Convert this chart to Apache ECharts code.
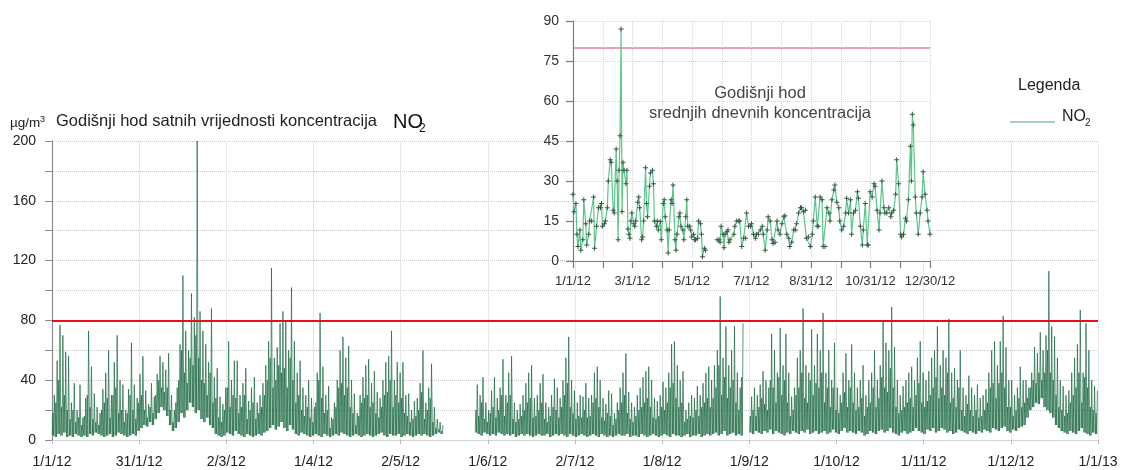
<!DOCTYPE html>
<html>
<head>
<meta charset="utf-8">
<script src="https://cdn.jsdelivr.net/npm/echarts@6/dist/echarts.min.js"></script>
<style>
  html, body { margin: 0; padding: 0; background: #fff; }
  #chart { width: 1121px; height: 470px; }
</style>
</head>
<body>
<div id="chart"></div>
<script>
// Limit value (µg/m³) drawn as a horizontal line in both panels
const LIMIT = 80;

// Tick labels of the hourly panel (day of year 0..366, every 30.5 days)
const hourlyTickLabels = ['1/1/12', '31/1/12', '2/3/12', '1/4/12', '2/5/12', '1/6/12', '2/7/12',
  '1/8/12', '1/9/12', '1/10/12', '1/11/12', '1/12/12', '1/1/13'];

// Tick labels of the daily-mean panel (every other tick)
const dailyTickLabels = ['1/1/12', '3/1/12', '5/1/12', '7/1/12', '8/31/12', '10/31/12', '12/30/12'];

// Hourly NO2: evening maximum per day of 2012 (null = no measurements)
const dailyPeak = [
  30, 53, 77, 70, 59, 56, 25, 38, 20, 37,
  15, 28, 73, 49, 31, 22, 18, 34, 45, 60,
  30, 52, 70, 40, 37, 20, 34, 65, 37, 28,
  44, 56, 33, 24, 38, 29, 44, 56, 52, 47,
  58, 30, 20, 35, 64, 110, 73, 60, 98, 82,
  200, 86, 73, 64, 52, 88, 42, 48, 29, 24,
  35, 66, 40, 53, 53, 30, 38, 48, 26, 35,
  42, 25, 30, 38, 50, 66, 115, 55, 62, 78,
  86, 80, 60, 102, 66, 45, 53, 35, 30, 40,
  28, 22, 45, 85, 49, 30, 36, 15, 25, 40,
  60, 69, 55, 63, 40, 31, 18, 30, 42, 50,
  54, 38, 46, 32, 28, 40, 52, 56, 73, 40,
  52, 45, 52, 30, 31, 20, 26, 28, 38, 60,
  25, 35, 51, 22, 14, 12, 10,
  null, null, null, null, null, null, null, null, null, null, null,
  37, 30,
  42, 25, 20, 33, 42, 28, 35, 54, 30, 45,
  56, 25, 20, 24, 30, 38, 45, 50, 28, 30,
  38, 44, 25, 22, 30, 41, 35, 28, 40, 55,
  69, 40, 33, 25, 30, 29, 38, 28, 30, 45,
  49, 40, 28, 24, 33, 31, 18, 25, 35, 45,
  58, 32, 25, 22, 30, 35, 42, 46, 49, 40,
  28, 26, 30, 39, 35, 45, 64, 66, 50, 40,
  46, 20, 25, 30, 28, 36, 30, 38, 45, 49,
  40, 50, 60, 96, 55, 76, 50, 60, 76, 45,
  35, 78, null, null, 29, 35, 30, 37, 46, 40,
  35, 71, 60, 45, 75, 50, 71, 45, 29, 35,
  55, 60, 88, 50, 45, 74, 50, 71, 60, 85,
  45, 60, 40, 65, 35, 30, 45, 58, 40, 64,
  45, 35, 40, 50, 30, 40, 45, 60, 40, 50,
  79, 65, 60, 89, 62, 40, 30, 36, 40, 45,
  49, 40, 55, 66, 45, 40, 46, 55, 60, 76,
  50, 60, 55, 81, 45, 48, 40, 60, 35, 30,
  43, 35, 30, 37, 28, 30, 34, 45, 60, 66,
  50, 66, 83, 62, 40, 40, 30, 35, 49, 40,
  40, 35, 45, 62, 58, 72, 60, 70, 113, 76,
  69, 55, 40, 36, 30, 33, 45, 55, 64, 87,
  45, 78, 60, 40, 36, 33
];

// Hourly NO2: morning maximum per day of 2012
const dailyMorning = [
  18, 25, 40, 22, 30, 20, 14, 20, 12, 15,
  10, 16, 30, 22, 14, 12, 10, 20, 25, 28,
  15, 30, 35, 18, 20, 12, 18, 30, 20, 14,
  25, 30, 20, 15, 22, 18, 30, 40, 35, 32,
  35, 20, 12, 25, 40, 60, 45, 38, 55, 50,
  70, 55, 40, 38, 30, 45, 25, 28, 15, 12,
  20, 35, 22, 30, 28, 18, 22, 30, 14, 20,
  25, 14, 18, 22, 30, 40, 55, 35, 40, 50,
  45, 48, 35, 55, 40, 25, 30, 20, 16, 22,
  15, 12, 25, 40, 28, 18, 20, 8, 14, 22,
  35, 38, 30, 35, 22, 18, 10, 16, 25, 28,
  30, 22, 25, 18, 15, 22, 30, 32, 40, 22,
  30, 25, 28, 18, 16, 12, 14, 16, 20, 32,
  14, 20, 28, 12, 8, 7, 6,
  null, null, null, null, null, null, null, null, null, null, null,
  20, 16,
  25, 14, 12, 18, 22, 15, 20, 30, 16, 25,
  30, 14, 12, 14, 16, 20, 25, 28, 15, 16,
  20, 25, 14, 12, 16, 22, 20, 15, 22, 30,
  38, 22, 18, 14, 16, 15, 20, 15, 16, 25,
  28, 22, 15, 13, 18, 16, 10, 14, 20, 25,
  30, 18, 14, 12, 16, 20, 22, 25, 28, 22,
  15, 14, 16, 22, 20, 25, 35, 38, 28, 22,
  25, 12, 14, 16, 15, 20, 16, 22, 25, 28,
  22, 28, 35, 50, 30, 42, 28, 35, 40, 25,
  20, 42, null, null, 16, 20, 16, 22, 28, 24,
  20, 40, 35, 25, 42, 30, 40, 25, 16, 20,
  30, 35, 45, 28, 25, 40, 30, 38, 35, 45,
  25, 35, 22, 35, 20, 18, 25, 32, 22, 35,
  25, 20, 22, 28, 16, 22, 25, 35, 22, 28,
  42, 35, 32, 48, 35, 22, 18, 20, 22, 25,
  28, 22, 30, 38, 25, 22, 26, 30, 35, 42,
  28, 35, 30, 45, 25, 28, 22, 35, 20, 16,
  24, 20, 16, 20, 15, 16, 20, 25, 35, 38,
  28, 38, 45, 35, 22, 22, 16, 20, 28, 22,
  25, 28, 35, 40, 38, 45, 40, 45, 60, 45,
  40, 30, 22, 20, 16, 18, 25, 30, 35, 45,
  25, 42, 35, 22, 20, 18
];

// Hourly NO2: daily minimum per day of 2012 (null = no measurements)
const dailyLow = [
  3, 2, 4, 3, 5, 2, 3, 2, 4, 3,
  2, 3, 2, 4, 3, 5, 4, 3, 2, 3,
  4, 2, 3, 5, 4, 3, 2, 3, 4, 3,
  6, 8, 10, 9, 12, 10, 14, 18, 22, 20,
  16, 10, 6, 8, 12, 18, 15, 20, 25, 22,
  18, 20, 14, 12, 15, 10, 8, 4, 3, 2,
  3, 5, 4, 3, 6, 4, 3, 2, 4, 3,
  2, 3, 4, 3, 5, 6, 8, 10, 7, 9,
  12, 8, 6, 10, 7, 4, 3, 5, 4, 3,
  2, 3, 4, 3, 2, 4, 3, 2, 3, 4,
  3, 5, 4, 3, 2, 3, 4, 3, 2, 3,
  4, 3, 2, 3, 4, 5, 3, 2, 4, 3,
  3, 4, 2, 3, 4, 3, 2, 3, 4, 3,
  4, 3, 2, 3, 4, 5, 4,
  null, null, null, null, null, null, null, null, null, null, null,
  5, 4,
  3, 5, 4, 3, 4, 3, 5, 4, 3, 4,
  3, 4, 2, 3, 4, 3, 4, 3, 2, 3,
  4, 3, 3, 4, 2, 3, 4, 3, 4, 3,
  2, 4, 3, 2, 3, 4, 3, 2, 3, 4,
  3, 2, 4, 3, 2, 3, 2, 3, 4, 3,
  3, 4, 2, 3, 3, 2, 4, 3, 2, 3,
  4, 3, 2, 3, 4, 3, 2, 4, 3, 3,
  2, 3, 4, 2, 3, 3, 4, 2, 3, 4,
  3, 4, 5, 3, 4, 6, 3, 4, 5, 3,
  4, 3, null, null, 5, 4, 6, 5, 4, 6,
  5, 7, 4, 6, 5, 4, 3, 5, 4, 6,
  5, 4, 6, 5, 7, 4, 5, 6, 4, 5,
  6, 4, 5, 7, 5, 4, 6, 8, 5, 6,
  5, 4, 6, 5, 3, 4, 6, 5, 4, 6,
  7, 5, 6, 8, 5, 4, 3, 5, 6, 4,
  5, 6, 8, 6, 5, 4, 7, 6, 8, 5,
  6, 8, 7, 5, 6, 4, 5, 7, 6, 5,
  4, 6, 5, 4, 6, 5, 7, 6, 5, 8,
  7, 6, 8, 9, 6, 5, 7, 6, 8, 9,
  10, 15, 20, 22, 25, 24, 28, 22, 20, 18,
  15, 10, 8, 6, 5, 4, 6, 5, 4, 6,
  8, 5, 4, 3, 5, 4
];

// Daily mean NO2: day of year and mean value (null breaks the line)
const meanDay = [
  0, 1, 3, 4, 5, 7, 8, 10, 11, 13, 14, 16, 17, 19, 21, 22, 24, 26, 28, 29,
  30, 32, 33, 35, 36, 38, 39, 41, 42, 44, 45, 46, 47, 48, 49, 50, 51, 52, 54, 55,
  56, 57, 58, 59, 60, 62, 63, 64, 66, 67, 68, 70, 71, 72, 74, 75, 76, 78, 79, 81,
  82, 83, 85, 86, 87, 89, 90, 92, 93, 94, 96, 97, 98, 100, 101, 102, 104, 105, 106, 108,
  109, 110, 112, 113, 115, 116, 117, 119, 120, 121, 123, 124, 125, 127, 128, 130, 131, 132, 134, 135,
  140,
  147, 149, 150, 151, 153, 154, 155, 157, 158, 159, 160, 164, 165, 167, 169, 170, 172, 174, 176, 177,
  179, 181, 182, 184, 186, 187, 189, 191, 193, 194, 196, 198, 199, 201, 203, 204, 206, 208, 209, 211,
  213, 215, 216, 218, 220, 221, 223, 225, 227, 228, 230, 232, 233, 235, 237, 238, 240, 242, 244, 245,
  247, 249, 250, 252, 254, 255, 257, 259, 261, 262, 264, 266, 267, 269, 271, 272, 274, 276, 278, 279,
  281, 283, 284, 286, 288, 290, 291, 293, 295, 296, 298, 300, 301, 303, 305, 307, 308, 310, 312, 313,
  315, 317, 318, 320, 322, 324, 325, 327, 329, 330, 332, 334, 335, 337, 339, 340, 342, 344, 345, 346,
  347, 349, 350, 352, 354, 356, 357, 359, 361, 362, 364
];
const meanValue = [
  25, 18.5, 21.6, 10, 5.4, 11.6, 4, 8, 23, 14, 6, 10, 15, 15, 24, 4.8, 13, 20, 20, 21.6,
  13, 14, 15, 20, 30, 38, 37, 19, 18, 42, 30, 8, 34, 47, 87, 18.5, 37, 34, 29, 34,
  12, 10, 8.5, 15, 18, 14, 13, 15, 22, 24, 20, 8, 9, 15, 35, 21.6, 16.6, 28, 33, 34,
  29, 15, 13, 15, 11.6, 14.8, 8, 21.6, 23, 16.6, 11.6, 3, 11.6, 23, 21.6, 28.5, 8, 4, 10, 16.6,
  18, 13, 11.6, 8, 16.6, 23, 13, 13, 11.6, 9, 10, 8, 8, 8.5, 15, 14, 10, 1.6, 4.8, 4,
  null,
  8, 8, 7, 13, 10, 5, 10, 11, 11.6, 7, 8, 10, 13, 15, 15, 15, 5.4, 8.5, 8.5, 18,
  13, 13, 14, 10, 8.5, 10, 10, 11.6, 13, 10, 4, 11.6, 16.6, 15, 8, 6.6, 7, 15, 11.6, 10,
  14, 16.6, 17, 10, 8.5, 5.4, 7, 11.6, 11.6, 14, 18, 20, 20, 18.5, 19, 8.5, 9, 5.4, 10, 15,
  24, 13, 13, 24, 23, 5.4, 5.4, 20, 18, 15, 23, 26.6, 28.5, 22, 20, 15, 11.6, 13, 18, 23.5,
  18, 23, 10, 18, 19, 26, 23.5, 13, 6, 11.6, 21.6, 6, 6, 26, 24, 29, 28, 19, 11.6, 18,
  30, 20, 18, 18, 20, 16.6, 18, 19, 25, 38, 29, 10, 9, 10, 16, 15, 23, 43, 30, 55,
  51, 24, 18, 10, 18, 24, 33.5, 25, 19, 15, 10
];

// Hourly series: night low, morning peak, midday low, evening peak for each day
const hourlyData = [];
dailyPeak.forEach((peak, day) => {
  if (peak === null) {
    hourlyData.push([day + 0.5, null]);
  } else {
    hourlyData.push([day + 0.1, dailyLow[day]]);
    hourlyData.push([day + 0.33, dailyMorning[day]]);
    hourlyData.push([day + 0.55, dailyLow[day]]);
    hourlyData.push([day + 0.8, peak]);
  }
});
const meanData = meanDay.map((d, i) => [d, meanValue[i]]);

const FONT = '"Liberation Sans", Arial, sans-serif';
const HOURLY_STEP = 30.5;
const DAILY_STEP = 364 / 12;
const PLUS = 'path://M2,0H3V2H5V3H3V5H2V3H0V2H2Z';

const chart = echarts.init(document.getElementById('chart'), null, { renderer: 'canvas' });
chart.setOption({
  animation: false,
  backgroundColor: '#ffffff',
  textStyle: { fontFamily: FONT },
  grid: [
    { left: 52, right: 23, top: 141, bottom: 30 },
    { left: 573, right: 191, top: 21, bottom: 209, z: 5, show: true,
      backgroundColor: '#ffffff', borderWidth: 0 }
  ],
  xAxis: [
    {
      gridIndex: 0, type: 'value', min: 0, max: 366, interval: HOURLY_STEP, offset: 5,
      axisLine: { lineStyle: { color: '#cdd6d1', width: 1 } },
      axisTick: { show: true, length: 4, lineStyle: { color: '#bbbbbb' } },
      axisLabel: { color: '#222', fontSize: 14, margin: 10, fontFamily: FONT,
        formatter: v => hourlyTickLabels[Math.round(v / HOURLY_STEP)] || '' },
      splitLine: { show: true, lineStyle: { color: '#e2ebe6', width: 1, type: 'solid' } }
    },
    {
      gridIndex: 1, type: 'value', min: 0, max: 364, interval: DAILY_STEP, z: 10,
      axisLine: { lineStyle: { color: '#7a7a7a', width: 1.2 } },
      axisTick: { show: true, length: 7, lineStyle: { color: '#7a7a7a', width: 1.2 } },
      axisLabel: { color: '#333', fontSize: 13, margin: 14, fontFamily: FONT,
        formatter: v => {
          const k = Math.round(v / DAILY_STEP);
          return k % 2 === 0 ? (dailyTickLabels[k / 2] || '') : '';
        } },
      splitLine: { show: true, lineStyle: { color: '#d4d4d4', width: 1, type: 'dotted' } }
    }
  ],
  yAxis: [
    {
      gridIndex: 0, type: 'value', min: 0, max: 200, interval: 20,
      axisLine: { show: true, lineStyle: { color: '#8a8a8a', width: 1.2 } },
      axisTick: { show: true, length: 7, lineStyle: { color: '#8a8a8a' } },
      axisLabel: { color: '#222', fontSize: 14, margin: 16, fontFamily: FONT,
        formatter: v => (v % 40 === 0 ? String(v) : '') },
      splitLine: { show: true, lineStyle: { color: '#c9c9c9', width: 1, type: 'dotted' } }
    },
    {
      gridIndex: 1, type: 'value', min: 0, max: 90, interval: 15, z: 10,
      axisLine: { show: true, lineStyle: { color: '#7a7a7a', width: 1.2 } },
      axisTick: { show: true, length: 7, lineStyle: { color: '#7a7a7a', width: 1.2 } },
      axisLabel: { color: '#333', fontSize: 14, margin: 14, fontFamily: FONT },
      splitLine: { show: true, lineStyle: { color: '#d4d4d4', width: 1, type: 'dotted' } }
    }
  ],
  series: [
    {
      name: 'NO2', type: 'line', xAxisIndex: 0, yAxisIndex: 0,
      data: hourlyData, showSymbol: false, symbol: 'none', connectNulls: false,
      lineStyle: { color: '#1c6a42', width: 0.75, opacity: 0.95 },
      itemStyle: { color: '#1c6a42' },
      markLine: {
        silent: true, symbol: ['none', 'none'], label: { show: false },
        lineStyle: { color: '#e2101a', width: 2, type: 'solid', opacity: 1 },
        data: [{ yAxis: LIMIT }]
      }
    },
    {
      name: 'NO2 daily', type: 'line', xAxisIndex: 1, yAxisIndex: 1, z: 11,
      data: meanData, connectNulls: false,
      symbol: PLUS, symbolSize: 5, showSymbol: true,
      itemStyle: { color: '#3a5746' },
      lineStyle: { color: '#5cc58a', width: 1.2 },
      markLine: {
        silent: true, symbol: ['none', 'none'], label: { show: false },
        lineStyle: { color: '#ec7ba2', width: 1.6, type: 'solid' },
        data: [{ yAxis: LIMIT }]
      }
    }
  ],
  graphic: [
    { type: 'text', left: 10, top: 116, z: 20,
      style: { text: 'µg/m', font: '13.5px ' + FONT, fill: '#222' } },
    { type: 'text', left: 40, top: 115, z: 20,
      style: { text: '3', font: '9px ' + FONT, fill: '#222' } },
    { type: 'text', left: 56, top: 113, z: 20,
      style: { text: 'Godišnji hod satnih vrijednosti koncentracija', font: '16.5px ' + FONT, fill: '#222' } },
    { type: 'text', left: 393, top: 112, z: 20,
      style: { text: 'NO', font: '20px ' + FONT, fill: '#111' } },
    { type: 'text', left: 419, top: 123, z: 20,
      style: { text: '2', font: '12px ' + FONT, fill: '#111' } },
    { type: 'text', x: 760, y: 85, z: 20,
      style: { text: 'Godišnji hod', font: '16.5px ' + FONT, fill: '#444', align: 'center' } },
    { type: 'text', x: 760, y: 105, z: 20,
      style: { text: 'srednjih dnevnih koncentracija', font: '16.5px ' + FONT, fill: '#444', align: 'center' } },
    { type: 'text', left: 1018, top: 78, z: 20,
      style: { text: 'Legenda', font: '16px ' + FONT, fill: '#222' } },
    { type: 'line', z: 20,
      shape: { x1: 1010, y1: 122, x2: 1055, y2: 122 },
      style: { stroke: '#4f9f78', lineWidth: 1.2 } },
    { type: 'text', left: 1062, top: 109, z: 20,
      style: { text: 'NO', font: '16px ' + FONT, fill: '#222' } },
    { type: 'text', left: 1085, top: 118, z: 20,
      style: { text: '2', font: '10px ' + FONT, fill: '#222' } }
  ]
});
</script>
</body>
</html>
